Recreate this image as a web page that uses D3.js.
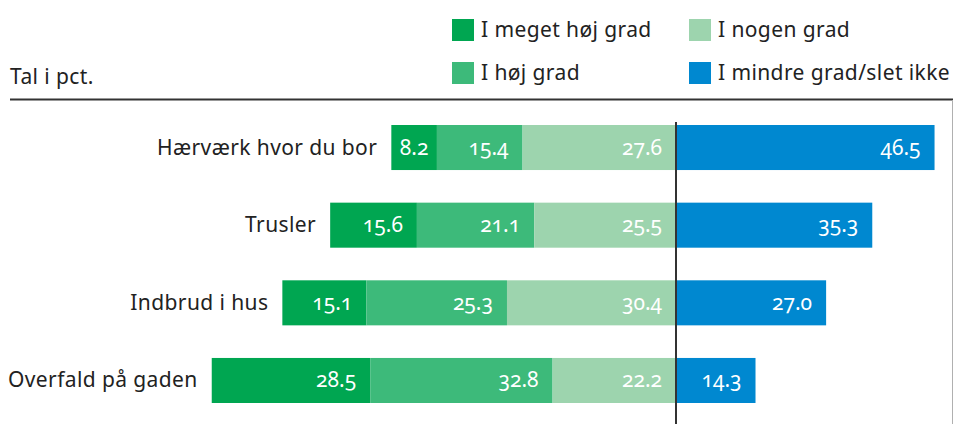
<!DOCTYPE html>
<html>
<head>
<meta charset="utf-8">
<script src="https://cdn.jsdelivr.net/npm/d3@7"></script>
<style>
  body { margin: 0; background: #fff; }
  text { font-family: "Noto Sans", "Open Sans", sans-serif; }
  .lbl { letter-spacing: 0.4px; }
  .num { font-variant-numeric: oldstyle-nums; }
</style>
</head>
<body>
<svg id="drawing_region"></svg>
<script>
// data
const categories = ["Hærværk hvor du bor", "Trusler", "Indbrud i hus", "Overfald på gaden"];
const series = ["I meget høj grad", "I høj grad", "I nogen grad", "I mindre grad/slet ikke"];
const meget_hoj = [8.2, 15.6, 15.1, 28.5];
const hoj = [15.4, 21.1, 25.3, 32.8];
const nogen = [27.6, 25.5, 30.4, 22.2];
const mindre = [46.5, 35.3, 27.0, 14.3];
const colors = ["#00a651", "#3dba7a", "#9dd4ae", "#0088d0"];

const width = 954, height = 424;
const svg = d3.select('#drawing_region')
    .attr('width', width)
    .attr('height', height);

// scales
const xscale = d3.scaleLinear()
    .domain([-100, 100])
    .range([676 - 556, 676 + 556]);

const yscale = d3.scaleBand()
    .domain(categories)
    .range([125, 403])
    .paddingInner(0.42);

// build segments: three levels stack to the left of 0, last one to the right
const segments = [];
categories.forEach((c, i) => {
    const left = [meget_hoj[i], hoj[i], nogen[i]];
    let start = -d3.sum(left);
    left.forEach((v, k) => {
        segments.push({cat: c, k: k, v: v, x0: start, x1: start + v});
        start += v;
    });
    segments.push({cat: c, k: 3, v: mindre[i], x0: 0, x1: mindre[i]});
});

// header rule and frame line
svg.append('line')
    .attr('x1', 10).attr('x2', 953)
    .attr('y1', 99.5).attr('y2', 99.5)
    .attr('stroke', '#333').attr('stroke-width', 2);
svg.append('line')
    .attr('x1', 952.5).attr('x2', 952.5)
    .attr('y1', 100).attr('y2', height)
    .attr('stroke', '#b0b0b0').attr('stroke-width', 1);

svg.append('text')
    .attr('class', 'lbl')
    .attr('x', 10).attr('y', 84)
    .attr('font-size', 21)
    .attr('fill', '#222')
    .text('Tal i pct.');

// legend
const legendPos = [[452, 19], [452, 62], [689, 19], [689, 62]];
const legend = svg.append('g');
series.forEach((s, i) => {
    legend.append('rect')
        .attr('x', legendPos[i][0]).attr('y', legendPos[i][1])
        .attr('width', 22).attr('height', 22)
        .attr('fill', colors[i]);
    legend.append('text')
        .attr('class', 'lbl')
        .attr('x', legendPos[i][0] + 29)
        .attr('y', legendPos[i][1] + 18)
        .attr('font-size', 21)
        .attr('fill', '#222')
        .text(s);
});

// bars
const chart = svg.append('g');
chart.selectAll('rect.bar')
    .data(segments)
    .enter()
    .append('rect')
    .attr('class', 'bar')
    .attr('x', d => xscale(d.x0))
    .attr('y', d => yscale(d.cat))
    .attr('width', d => xscale(d.x1) - xscale(d.x0))
    .attr('height', yscale.bandwidth())
    .attr('fill', d => colors[d.k]);

// value labels
chart.selectAll('text.val')
    .data(segments)
    .enter()
    .append('text')
    .attr('class', 'val num')
    .attr('x', d => {
        const w = xscale(d.x1) - xscale(d.x0);
        return w < 60 ? (xscale(d.x0) + xscale(d.x1)) / 2 : xscale(d.x1) - 14;
    })
    .attr('y', d => yscale(d.cat) + yscale.bandwidth() / 2 + 7)
    .attr('text-anchor', d => (xscale(d.x1) - xscale(d.x0)) < 60 ? 'middle' : 'end')
    .attr('font-size', 21)
    .attr('fill', '#fff')
    .text(d => d.v.toFixed(1));

// category labels
chart.selectAll('text.cat')
    .data(categories)
    .enter()
    .append('text')
    .attr('class', 'cat lbl')
    .attr('x', (c, i) => xscale(-(meget_hoj[i] + hoj[i] + nogen[i])) - 14)
    .attr('y', c => yscale(c) + yscale.bandwidth() / 2 + 7)
    .attr('text-anchor', 'end')
    .attr('font-size', 21)
    .attr('fill', '#222')
    .text(c => c);

// zero line
svg.append('line')
    .attr('x1', xscale(0)).attr('x2', xscale(0))
    .attr('y1', 122).attr('y2', height)
    .attr('stroke', '#333').attr('stroke-width', 2);
</script>
</body>
</html>
